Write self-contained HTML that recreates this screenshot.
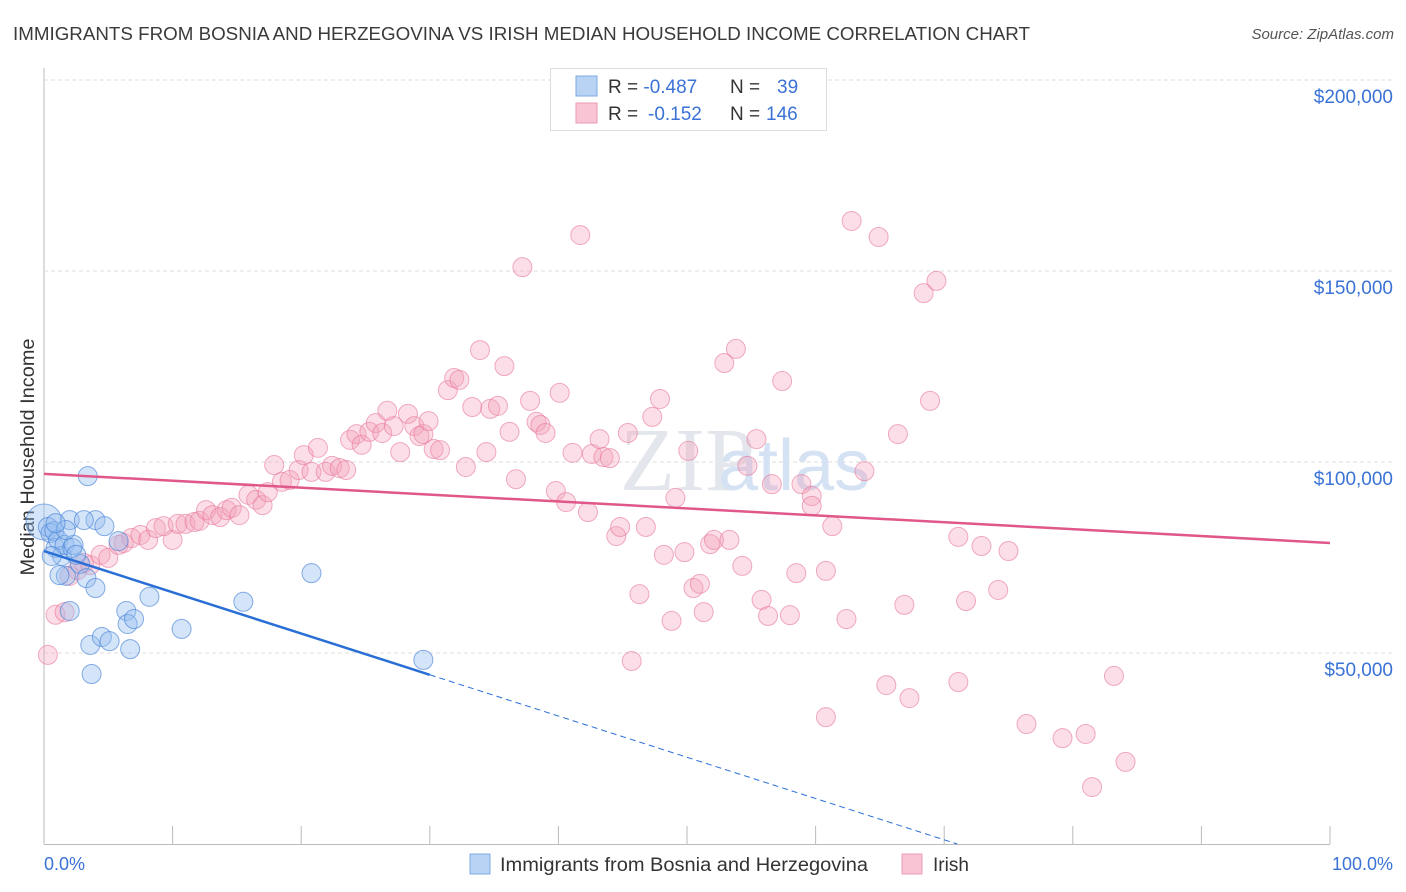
<!DOCTYPE html>
<html><head><meta charset="utf-8"><style>
body{margin:0;background:#fff;font-family:"Liberation Sans",sans-serif;}
svg{display:block}
</style></head><body>
<svg id="chart" width="1406" height="892" xmlns="http://www.w3.org/2000/svg">
<text x="13" y="40" font-size="18" fill="#3a3a3a" textLength="1017" lengthAdjust="spacingAndGlyphs">IMMIGRANTS FROM BOSNIA AND HERZEGOVINA VS IRISH MEDIAN HOUSEHOLD INCOME CORRELATION CHART</text>
<text x="1394" y="39" font-size="15" fill="#555" text-anchor="end" font-style="italic">Source: ZipAtlas.com</text>
<text x="34" y="457" font-size="19" fill="#333" text-anchor="middle" textLength="237" lengthAdjust="spacingAndGlyphs" transform="rotate(-90 34 457)">Median Household Income</text>
<g id="grid"></g>
<text x="620" y="490" font-size="90" fill="#e3e6ec" font-family="Liberation Serif,serif">ZIP</text>
<text x="718" y="490" font-size="72" fill="#d5e2f3">atlas</text>
<g id="pts"></g>
<g id="lines"></g>
<g>
<rect x="550.5" y="68.5" width="276" height="62" fill="#fff" stroke="#ddd"/>
<rect x="576" y="76" width="21" height="20" fill="#b9d3f5" stroke="#7fa8e0"/>
<rect x="576" y="103" width="21" height="20" fill="#f9c5d4" stroke="#ec9ab3"/>
<text x="608" y="93" font-size="19" fill="#333">R = <tspan fill="#3a72d6">-0.487</tspan><tspan x="730">N = </tspan><tspan x="777" fill="#3a72d6">39</tspan></text>
<text x="608" y="120" font-size="19" fill="#333">R = <tspan x="648" fill="#3a72d6">-0.152</tspan><tspan x="730">N = </tspan><tspan x="766" fill="#3a72d6">146</tspan></text>
</g>
<g>
<rect x="470" y="854" width="20" height="20" fill="#b9d3f5" stroke="#7fa8e0"/>
<text x="500" y="871" font-size="19" fill="#333" textLength="368" lengthAdjust="spacingAndGlyphs">Immigrants from Bosnia and Herzegovina</text>
<rect x="902" y="854" width="20" height="20" fill="#f9c5d4" stroke="#ec9ab3"/>
<text x="933" y="871" font-size="19" fill="#333">Irish</text>
</g>
<text x="44" y="870" font-size="18" fill="#3a72d6">0.0%</text>
<text x="1393" y="870" font-size="18" fill="#3a72d6" text-anchor="end">100.0%</text>
</svg>
<script>
const yTicks=[50,100,150,200];
const yTickLabels=["$50,000","$100,000","$150,000","$200,000"];
const blueX=[0,0.3,0.5,0.8,0.9,1.1,1.4,1.7,1.6,2.0,2.2,2.3,2.8,3.3,3.4,3.6,3.7,4.0,4.0,4.7,4.5,5.1,5.8,6.4,6.5,6.7,7.0,8.2,10.7,15.5,20.8,29.5,2.0,3.1,1.2,2.5,1.7,0.6,0.9];
const blueY=[84.3,83.0,81.4,81.9,77.5,79.6,75.4,70.2,78.3,61.0,77.5,78.3,73.3,69.6,96.3,52.1,44.5,67.0,84.8,83.2,54.2,53.1,79.3,61.0,57.6,51.0,58.9,64.7,56.3,63.4,70.9,48.2,84.8,84.8,70.4,75.7,82.2,75.4,84.0];
const pinkX=[0.3,0.9,1.6,2.0,2.6,3.1,3.6,4.4,5.0,5.8,6.2,6.8,7.5,8.1,8.7,9.3,10.0,10.4,11.0,11.7,12.1,12.6,13.1,13.7,14.2,14.6,15.2,15.9,16.5,17.0,17.4,17.9,18.5,19.1,19.8,20.2,20.8,21.3,21.9,22.4,23.0,23.5,23.8,24.3,24.7,25.3,25.8,26.3,26.7,27.2,27.7,28.3,28.8,29.2,29.5,29.9,30.3,30.8,31.4,31.9,32.3,32.8,33.3,33.9,34.4,34.7,35.3,35.8,36.2,36.7,37.2,37.8,38.3,38.6,39.0,39.8,40.1,40.6,41.1,41.7,42.3,42.6,43.2,43.5,44.0,44.5,44.8,45.4,45.7,46.3,46.8,47.3,47.9,48.2,48.8,49.1,49.8,50.1,50.5,51.0,51.3,51.8,52.1,52.9,53.3,53.8,54.3,54.7,55.4,55.8,56.3,56.6,57.4,58.0,58.5,58.9,59.7,59.7,60.8,60.8,61.3,62.4,62.8,63.8,64.9,65.5,66.4,66.9,67.3,68.4,68.9,69.4,71.1,71.1,71.7,72.9,74.2,75.0,76.4,79.2,81.0,83.2,84.1,81.5];
const pinkY=[49.5,60.0,60.7,70.2,71.7,73.6,73.0,75.7,74.9,78.3,78.8,80.1,80.9,79.6,82.7,83.2,79.6,83.8,83.8,84.3,84.6,87.4,86.1,85.6,87.4,88.0,86.1,91.4,90.1,88.7,92.1,99.2,94.8,95.3,97.9,101.8,97.4,103.7,97.4,99.0,98.4,97.9,105.8,107.3,104.5,107.9,110.2,107.6,113.4,109.4,102.6,112.6,109.4,106.8,107.3,110.7,103.4,103.1,118.8,122.0,121.5,98.7,114.4,129.3,102.6,113.9,114.7,125.1,107.9,95.5,151.0,116.0,110.5,109.7,107.6,92.4,118.1,89.5,102.4,159.4,86.9,102.1,106.0,101.3,101.0,80.6,83.0,107.6,47.9,65.4,83.0,111.8,116.5,75.7,58.4,90.6,76.4,102.9,67.0,68.1,60.7,78.5,79.6,125.9,79.6,129.6,72.8,99.0,106.0,63.9,59.7,94.2,121.2,59.9,70.9,94.2,91.1,88.5,71.5,33.2,83.2,58.9,163.1,97.6,158.9,41.6,107.3,62.6,38.2,144.2,116.0,147.4,42.4,80.4,63.6,78.0,66.5,76.7,31.4,27.7,28.8,44.0,21.5,14.9];
const blueTrend=[76.7,-1.08];
const pinkTrend=[96.9,-0.181];
const X0=44,X1=1330,Y0=844,YPX=3.82;
const sx=v=>X0+(X1-X0)*v/100;
const sy=v=>Y0-v*YPX;
const NS="http://www.w3.org/2000/svg";
function mk(tag,attrs,parent){const e=document.createElementNS(NS,tag);for(const k in attrs)e.setAttribute(k,attrs[k]);parent.appendChild(e);return e;}
const grid=document.getElementById('grid');
mk('line',{x1:44,y1:68,x2:44,y2:844,stroke:'#bbb'},grid);
mk('line',{x1:44,y1:844.5,x2:1330,y2:844.5,stroke:'#bbb'},grid);
for(let i=0;i<=10;i++){const t=mk('line',{x1:sx(i*10),y1:826,x2:sx(i*10),y2:844,stroke:'#bbb'},grid);

}
yTicks.forEach((v,i)=>{const g=mk('line',{x1:44,y1:sy(v),x2:1393,y2:sy(v),stroke:'#ddd','stroke-dasharray':'4,3'},grid);


const t=mk('text',{x:1393,y:sy(v)+23,'font-size':19,fill:'#3a72d6','text-anchor':'end'},grid);t.textContent=yTickLabels[i];

});
const pts=document.getElementById('pts');
pinkX.forEach((x,i)=>{const c=mk('circle',{cx:sx(x),cy:sy(pinkY[i]),r:9.5,fill:'rgba(244,160,186,0.35)',stroke:'rgba(232,120,155,0.6)','stroke-width':1},pts);

});
blueX.forEach((x,i)=>{const c=mk('circle',{cx:sx(x),cy:sy(blueY[i]),r:i===0?18:9.5,fill:'rgba(150,190,240,0.4)',stroke:'rgba(70,130,215,0.65)','stroke-width':1},pts);

});
const ln=document.getElementById('lines');
const pl=mk('line',{x1:sx(0),y1:sy(pinkTrend[0]),x2:sx(100),y2:sy(pinkTrend[0]+pinkTrend[1]*100),stroke:'#e0588a','stroke-width':2.5},ln);


const bEnd=30, bZero=-blueTrend[0]/blueTrend[1];
const bl=mk('line',{x1:sx(0),y1:sy(blueTrend[0]),x2:sx(bEnd),y2:sy(blueTrend[0]+blueTrend[1]*bEnd),stroke:'#2a6fd6','stroke-width':2.5},ln);


const bd=mk('line',{x1:sx(bEnd),y1:sy(blueTrend[0]+blueTrend[1]*bEnd),x2:sx(bZero),y2:sy(0),stroke:'#2a6fd6','stroke-width':1,'stroke-dasharray':'6,4'},ln);


</script>
</body></html>
